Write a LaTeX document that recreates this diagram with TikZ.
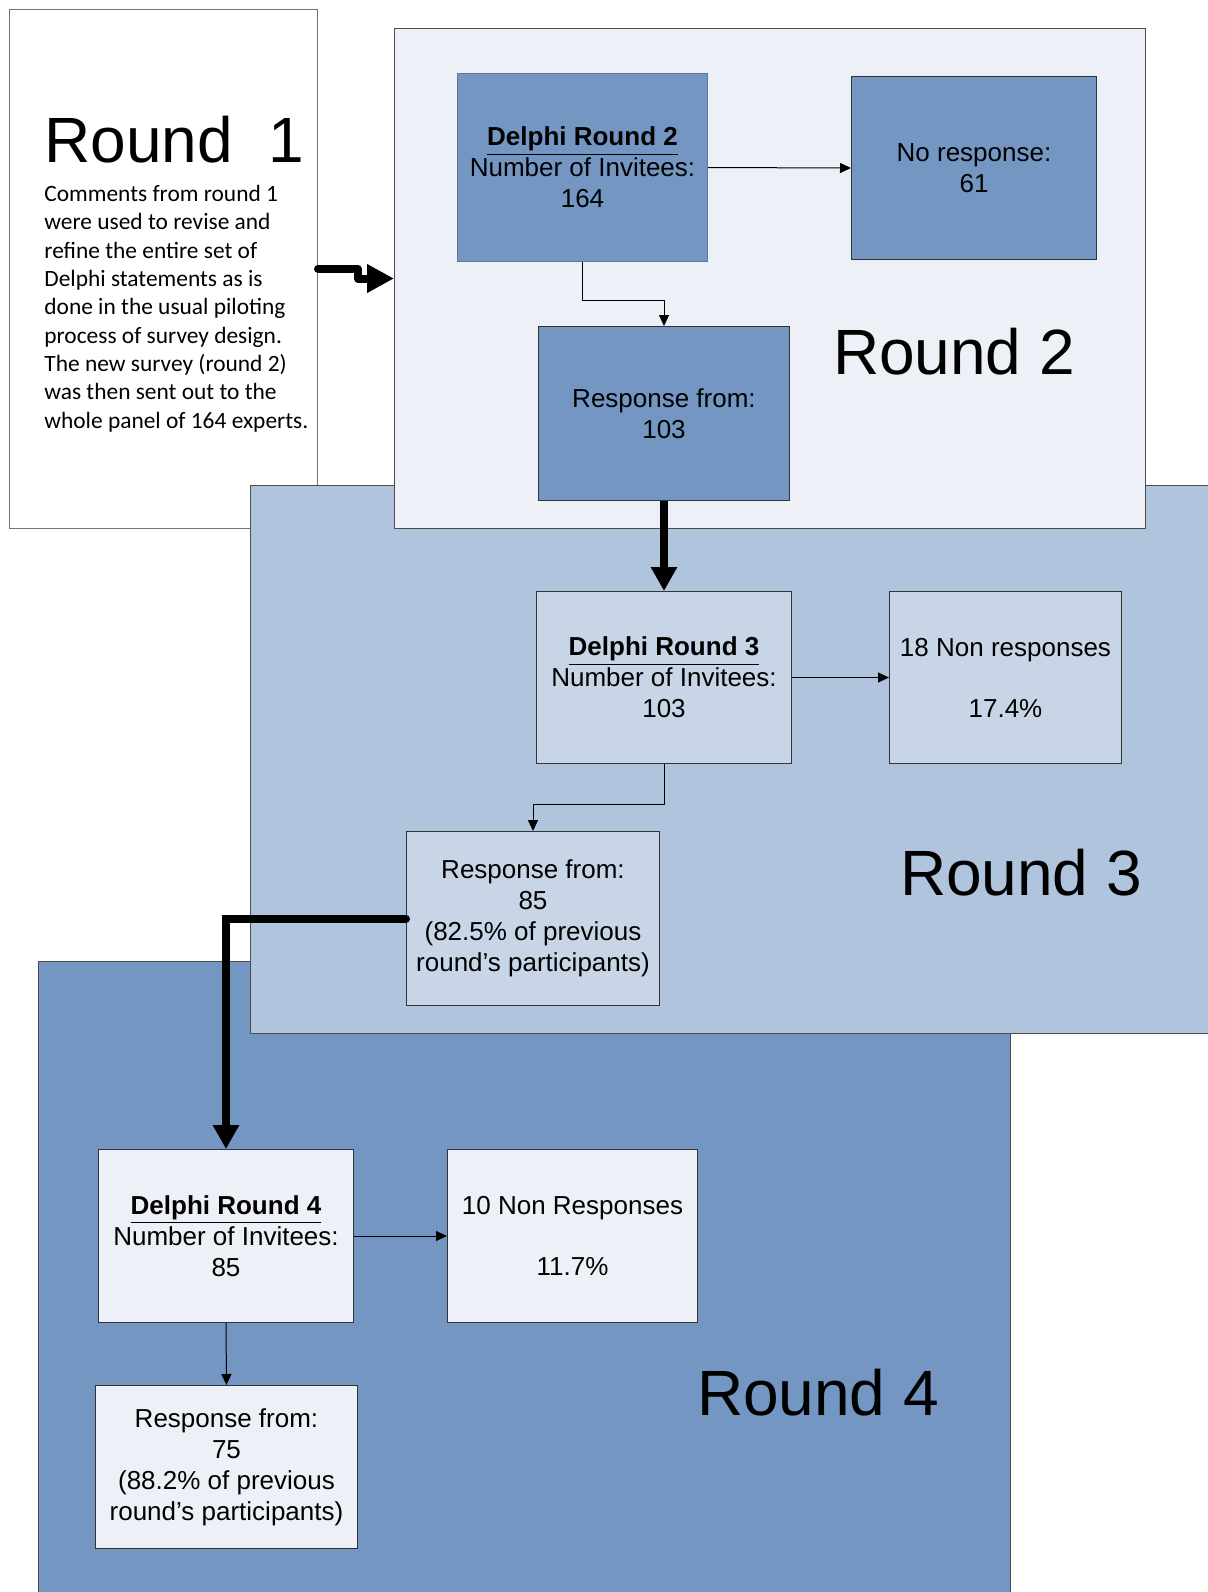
\documentclass[tikz,border=0pt]{standalone}
\usepackage{fontspec}
\setmainfont{Liberation Sans}
\newfontfamily\notefont{Carlito}
\usetikzlibrary{arrows.meta, calc}
\definecolor{paleblue}{RGB}{237,241,247}
\definecolor{midblue}{RGB}{176,196,221}
\definecolor{softblue}{RGB}{200,213,230}
\definecolor{stageblue}{RGB}{115,150,194}

\begin{document}
\begin{tikzpicture}[
  x=0.5pt, y=-0.5pt,
  panel/.style={draw=black!70, line width=0.5pt, inner sep=0pt, anchor=north west},
  stage/.style={draw=black!80, line width=0.5pt, inner sep=2pt, anchor=north west, align=center, font=\fontsize{13}{15.5}\selectfont},
  roundlbl/.style={inner sep=0pt, font=\fontsize{32}{38}\selectfont},
  arr/.style={-{Triangle[length=5.5pt, width=5pt]}, line width=0.5pt},
  bigarr/.style={-{Triangle[length=12pt, width=12.5pt]}, line width=4pt}
]
\useasboundingbox (0,0) rectangle (1208,1592);

% panels, back to front
\node[panel, fill=white, draw=black!55, minimum width=154pt, minimum height=259.5pt] (r1) at (9,9) {};
\node[panel, fill=stageblue, minimum width=486pt, minimum height=330pt] (r4) at (38,961) {};
\node[panel, fill=midblue, minimum width=485pt, minimum height=274pt] (r3) at (250,485) {};
\node[panel, fill=paleblue, minimum width=375.5pt, minimum height=250pt] (r2) at (394,28) {};

\node[roundlbl, anchor=base west] (lbl1) at (44,162) {Round\ \ 1};
\node[anchor=north west, inner sep=0pt, align=left, font=\notefont\fontsize{11.7}{14.15}\selectfont] (note1) at (44,185)
  {Comments from round 1\\were used to revise and\\refine the entire set of\\Delphi statements as is\\done in the usual piloting\\process of survey design.\\The new survey (round 2)\\was then sent out to the\\whole panel of 164 experts.};

% round 2
\node[stage, fill=stageblue, draw=stageblue!80!black, minimum width=125pt, minimum height=94pt] (d2) at (457,73) {\underline{\textbf{Delphi Round 2}}\\Number of Invitees:\\164};
\node[stage, fill=stageblue, minimum width=122.5pt, minimum height=91.5pt] (nr2) at (851,76) {No response:\\61};
\node[stage, fill=stageblue, minimum width=125.5pt, minimum height=87pt] (rf2) at (538,326) {Response from:\\103};
\node[roundlbl] (lbl2) at (954,352) {Round 2};

% round 3
\node[stage, fill=softblue, minimum width=127.5pt, minimum height=86pt] (d3) at (536,591) {\underline{\textbf{Delphi Round 3}}\\Number of Invitees:\\103};
\node[stage, fill=softblue, minimum width=116pt, minimum height=86pt] (nr3) at (889,591) {18 Non responses\\[15pt]17.4\%};
\node[stage, fill=softblue, minimum width=126.5pt, minimum height=87pt] (rf3) at (406,831) {Response from:\\85\\(82.5\% of previous\\round’s participants)};
\node[roundlbl] (lbl3) at (1021,873) {Round 3};

% round 4
\node[stage, fill=paleblue, minimum width=127.5pt, minimum height=86.5pt] (d4) at (98,1149) {\underline{\textbf{Delphi Round 4}}\\Number of Invitees:\\85};
\node[stage, fill=paleblue, minimum width=125pt, minimum height=86.5pt] (nr4) at (447,1149) {10 Non Responses\\[15pt]11.7\%};
\node[stage, fill=paleblue, minimum width=131pt, minimum height=81.5pt] (rf4) at (95,1385) {Response from:\\75\\(88.2\% of previous\\round’s participants)};
\node[roundlbl] (lbl4) at (818,1393) {Round 4};

% connectors
\draw[arr] (d2.east) -- (nr2.west);
\draw[arr] (d2.south) -- ++(0,38) -| (rf2.north);
\draw[arr] (d3.east) -- (nr3.west);
\draw[arr] (d3.south) -- ++(0,40) -| (rf3.north);
\draw[arr] (d4.east) -- (nr4.west);
\draw[arr] (d4.south) -- (rf4.north);

\draw[-{Triangle[length=13.5pt, width=13.5pt]}, line width=4pt, line cap=round, line join=round] (r1.east) -- ++(40,0) |- (r2.west);
\draw[bigarr] (rf2.south) -- (d3.north);
\draw[bigarr, line cap=round] (rf3.west) -| (d4.north);
\end{tikzpicture}
\end{document}
